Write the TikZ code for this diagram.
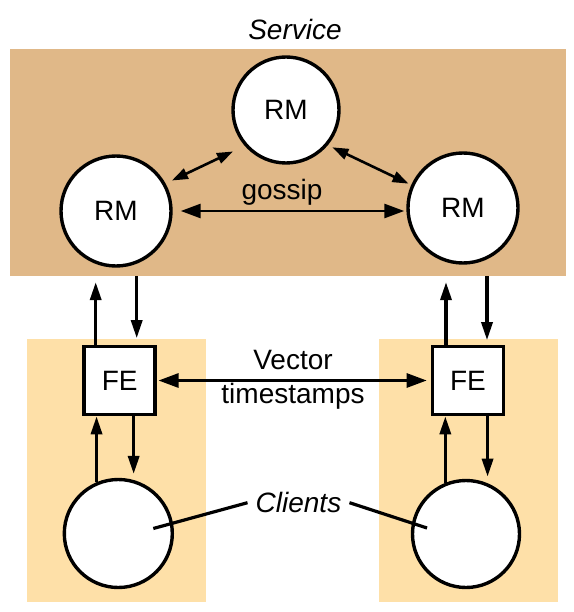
\documentclass[tikz,border=0pt]{standalone}
\usepackage{fontspec}
\setmainfont{Liberation Sans}
\usetikzlibrary{arrows.meta}
\definecolor{svcc}{RGB}{224,184,136}
\definecolor{clic}{RGB}{254,224,168}
\begin{document}
\begin{tikzpicture}[x=1pt,y=-1pt,
  txt/.style={font=\fontsize{28}{33.5}\selectfont},
  rm/.style={circle,draw,fill=white,line width=3.4pt,inner sep=0pt,txt},
  fe/.style={rectangle,draw,fill=white,line width=3.6pt,minimum width=71pt,minimum height=68pt,inner sep=0pt,txt},
  arr/.style={line width=3.3pt,-{Triangle[length=18pt,width=11pt]}},
  gos/.style={line width=2.8pt,{Triangle[length=20pt,width=14pt]}-{Triangle[length=20pt,width=14pt]}},
  diag/.style={line width=2.6pt,{Triangle[length=16pt,width=11pt]}-{Triangle[length=16pt,width=11pt]}},
  lead/.style={line width=3.2pt}]
\useasboundingbox (0,0) rectangle (573,612);
% backgrounds
\node[fill=svcc,minimum width=556pt,minimum height=226.4pt,inner sep=0pt,anchor=north west] (svc) at (10,49.3) {};
\fill[clic] (26.7,339) rectangle (206,602);
\fill[clic] (379,339) rectangle (558.3,602);
\node[txt,anchor=base,font=\fontsize{28}{33.5}\selectfont\itshape] (svclabel) at (295,40) {Service};
% replica managers
\node[rm,minimum size=106pt] (RMt) at (286,110) {RM};
\node[rm,minimum size=110pt] (RMl) at (116,211) {RM};
\node[rm,minimum size=110pt] (RMr) at (463,208) {RM};
% front ends
\node[fe] (FEl) at (119.7,380.5) {FE};
\node[fe] (FEr) at (468,380.5) {FE};
% clients
\node[rm,minimum size=108pt] (Cl) at (118.3,533.5) {};
\node[rm,minimum size=107pt] (Cr) at (466,534) {};
% gossip
\draw[gos,shorten >=10pt] ([xshift=8pt]RMl.east) -- ([xshift=8pt]RMl.east -| RMr.west);
\node[txt,anchor=base] (gossip) at (282,200) {gossip};
\draw[diag,shorten <=7pt,shorten >=13pt] (RMl.29) -- (RMt.221);
\draw[diag,shorten <=5pt,shorten >=3pt] (RMt.320) -- (RMr.156);
% RM <-> FE
\draw[arr,shorten >=6pt] ([xshift=-24pt]FEl.north) -- ([xshift=-24pt]FEl.north |- svc.south);
\draw[arr,shorten >=6.5pt] ([xshift=17pt]FEl.north |- svc.south) -- ([xshift=17pt]FEl.north);
\draw[arr,shorten >=6pt] ([xshift=-22pt]FEr.north) -- ([xshift=-22pt]FEr.north |- svc.south);
\draw[arr,shorten >=4.5pt] ([xshift=19pt]FEr.north |- svc.south) -- ([xshift=19pt]FEr.north);
% FE <-> clients
\draw[arr] (Cl.113) -- (Cl.113 |- FEl.south);
\draw[arr,shorten >=6pt] (Cl.74 |- FEl.south) -- (Cl.74);
\draw[arr] (Cr.112) -- (Cr.112 |- FEr.south);
\draw[arr,shorten >=6.5pt] (Cr.67 |- FEr.south) -- (Cr.67);
% vector timestamps
\draw[gos,shorten <=1.5pt,shorten >=4pt] (FEl.east) -- (FEr.west);
\node[txt,align=center] (vt) at (293,380) {Vector\\timestamps};
% clients label
\node[txt,anchor=base,font=\fontsize{28}{33.5}\selectfont\itshape,inner xsep=8pt] (clients) at (298.5,512.7) {Clients};
\coordinate (clA) at ([shift={(35pt,5pt)}]Cl.center);
\coordinate (clB) at ([shift={(-39pt,6pt)}]Cr.center);
\draw[lead] (clA) -- (clients.west);
\draw[lead] (clients.east) -- (clB);
\end{tikzpicture}
\end{document}
